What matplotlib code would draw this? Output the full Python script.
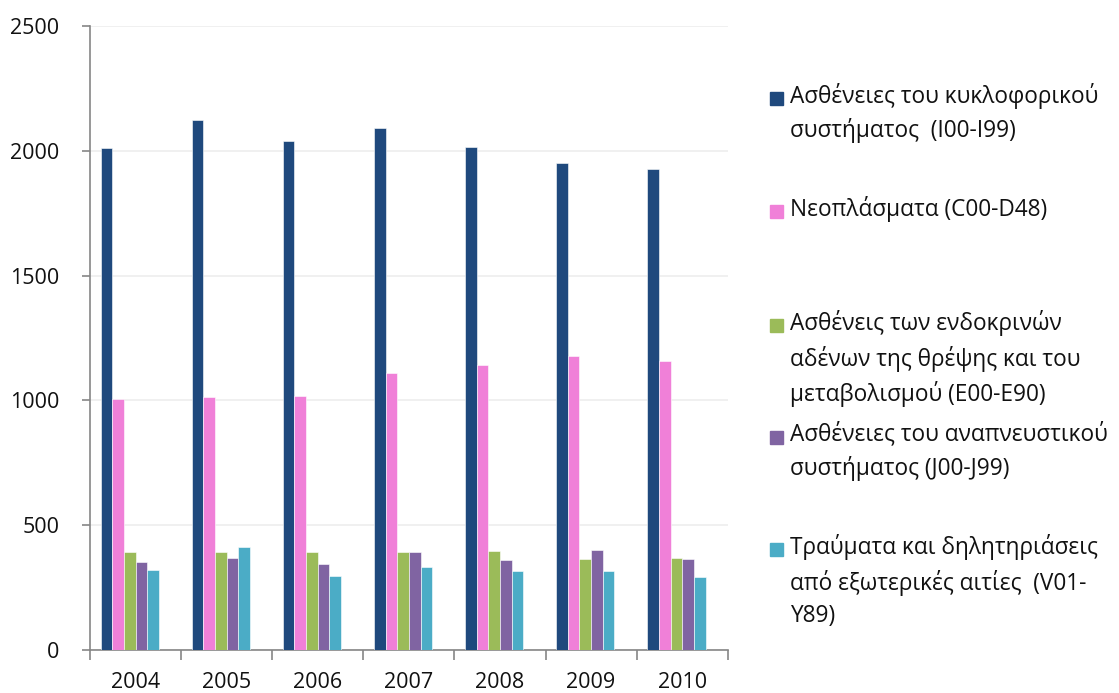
import numpy as np
import matplotlib.pyplot as plt
from matplotlib.patches import Rectangle

plt.rcParams['font.family'] = ['Open Sans', 'DejaVu Sans']

years = ['2004', '2005', '2006', '2007', '2008', '2009', '2010']
labels = ['Ασθένειες του κυκλοφορικού\nσυστήματος  (I00-I99)',
          'Νεοπλάσματα (C00-D48)',
          'Ασθένεις των ενδοκρινών\nαδένων της θρέψης και του\nμεταβολισμού (E00-E90)',
          'Ασθένειες του αναπνευστικού\nσυστήματος (J00-J99)',
          'Τραύματα και δηλητηριάσεις\nαπό εξωτερικές αιτίες  (V01-\nY89)']
kykloforiko = [2012, 2124, 2040, 2092, 2016, 1952, 1928]
neoplasmata = [1005, 1012, 1018, 1109, 1140, 1177, 1156]
endokrines = [392, 391, 393, 391, 396, 363, 367]
anapneustiko = [353, 368, 345, 392, 359, 399, 364]
traumata = [321, 413, 297, 333, 317, 315, 294]
colors = ['#1F497D', '#F080D8', '#9BBB59', '#8064A2', '#4BACC6']

series = [kykloforiko, neoplasmata, endokrines, anapneustiko, traumata]

fig = plt.figure(figsize=(11.19, 6.93), dpi=100)
ax = fig.add_axes([0.0804, 0.062, 0.570, 0.9005])

x = np.arange(len(years))
w = 0.128
for i, s in enumerate(series):
    ax.bar(x + (i - 2.5) * w, s, w, color=colors[i], edgecolor='white', linewidth=0.4, zorder=3)

ax.set_ylim(0, 2500)
ax.set_xlim(-0.5, 6.5)
ax.set_yticks(range(0, 2501, 500))
ax.yaxis.grid(True, color='#EDEDED', linewidth=1.2, zorder=0)
ax.set_xticks(x)
ax.set_xticklabels(years)
ax.set_xticks(np.arange(-0.5, 7, 1), minor=True)
ax.tick_params(axis='x', which='major', length=0, pad=16, labelsize=15.5, labelcolor='#111111')
ax.tick_params(axis='x', which='minor', length=7, color='#868686', width=1.2)
ax.tick_params(axis='y', length=6, color='#868686', width=1.2, pad=16, labelsize=15.5, labelcolor='#111111')
for sp in ['top', 'right']:
    ax.spines[sp].set_visible(False)
for sp in ['left', 'bottom']:
    ax.spines[sp].set_color('#868686')
    ax.spines[sp].set_linewidth(1.2)

# legend drawn by hand
leg_y = [98, 211, 325, 437, 549]
for i, lab in enumerate(labels):
    yf = 1 - leg_y[i] / 693
    fig.patches.append(Rectangle((770 / 1119, yf - 6.5 / 693), 13 / 1119, 13 / 693,
                                 transform=fig.transFigure, color=colors[i]))
    fig.text(790 / 1119, yf + 15 / 693, lab, fontsize=16.3, va='top', ha='left',
             linespacing=1.48, color='#111111')

fig.savefig('out.png', dpi=100)
